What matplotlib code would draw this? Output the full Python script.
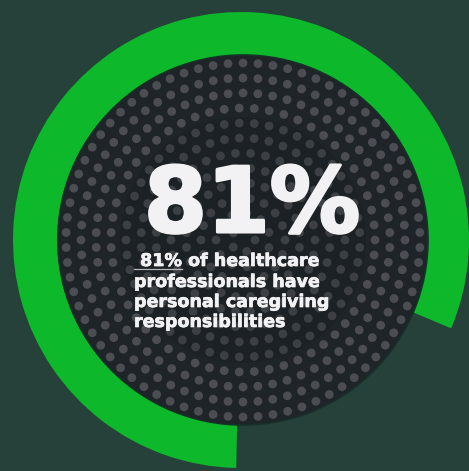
import numpy as np
import matplotlib.pyplot as plt
import matplotlib.patheffects as pe
from matplotlib.patches import Wedge, Circle

# data
share = 81
headline = "81%"
caption_lines = [" 81% of healthcare",
                 "professionals have",
                 "personal caregiving",
                 "responsibilities"]
underlined = " 81%"

W, H = 469, 471
bg = "#26413a"
ring_col = "#0db82b"
disc_col = "#1e2427"
inner_col = "#1b2124"
dot_col = "#4b4d53"
dot_col_in = "#3c3f44"
text_col = "#f2f2f4"

fig = plt.figure(figsize=(W / 100, H / 100), dpi=100, facecolor=bg)
ax = fig.add_axes([0, 0, 1, 1])
ax.set_xlim(0, W)
ax.set_ylim(0, H)
ax.set_aspect("equal")
ax.axis("off")
ax.set_facecolor(bg)

cx, cy = 241, H - 240
r_out, r_in = 228, 185

# progress ring: starts at the bottom, runs clockwise
theta_end = 268.8
theta_start = theta_end - share / 100 * 360
ax.add_patch(Wedge((cx, cy), r_out, theta_start, theta_end, width=r_out - r_in + 1,
                   facecolor=ring_col, edgecolor="none"))

# dark disc with a faint inner disc
ax.add_patch(Circle((cx + 2, cy), r_in, facecolor=disc_col, edgecolor="#17302a", lw=1.2))
ax.add_patch(Circle((cx + 2, cy), 123, facecolor=inner_col, edgecolor="none"))

# concentric dot pattern
step = 15.0
for k, rr in enumerate(np.arange(12, 180, step)):
    n = max(1, int(round(2 * np.pi * rr / step)))
    ang = np.linspace(0, 2 * np.pi, n, endpoint=False) + (k % 2) * np.pi / n
    col = dot_col if rr > 123 else dot_col_in
    ax.scatter(cx + 2 + rr * np.cos(ang), cy + rr * np.sin(ang), s=40,
               color=col, edgecolors="none", zorder=2)

# headline number
heavy = [pe.withStroke(linewidth=2.2, foreground=text_col)]
ax.text(252, H - 232, headline, ha="center", va="baseline", color=text_col,
        fontsize=65, fontweight="bold", family="DejaVu Sans", zorder=5,
        path_effects=heavy)

# caption
x0 = 134
fs = 12.6
baselines = [266, 287, 307, 327]
semi = [pe.withStroke(linewidth=0.5, foreground=text_col)]
for line, yb in zip(caption_lines, baselines):
    ax.text(x0, H - yb, line, ha="left", va="baseline", color=text_col,
            fontsize=fs, fontweight="bold", family="DejaVu Sans", zorder=5,
            path_effects=semi)

# underline under the leading number
fig.canvas.draw()
probe = ax.text(x0, H - baselines[0], underlined, ha="left", va="baseline",
                fontsize=fs, fontweight="bold", family="DejaVu Sans", alpha=0)
bb = probe.get_window_extent(renderer=fig.canvas.get_renderer())
inv = ax.transData.inverted()
(xa, _), (xb, _) = inv.transform([[bb.x0, bb.y0], [bb.x1, bb.y0]])
ax.plot([xa, xb], [H - baselines[0] - 3, H - baselines[0] - 3], color="#b8b8bc",
        lw=0.9, zorder=5)

fig.savefig("out.png", dpi=100, facecolor=bg)
